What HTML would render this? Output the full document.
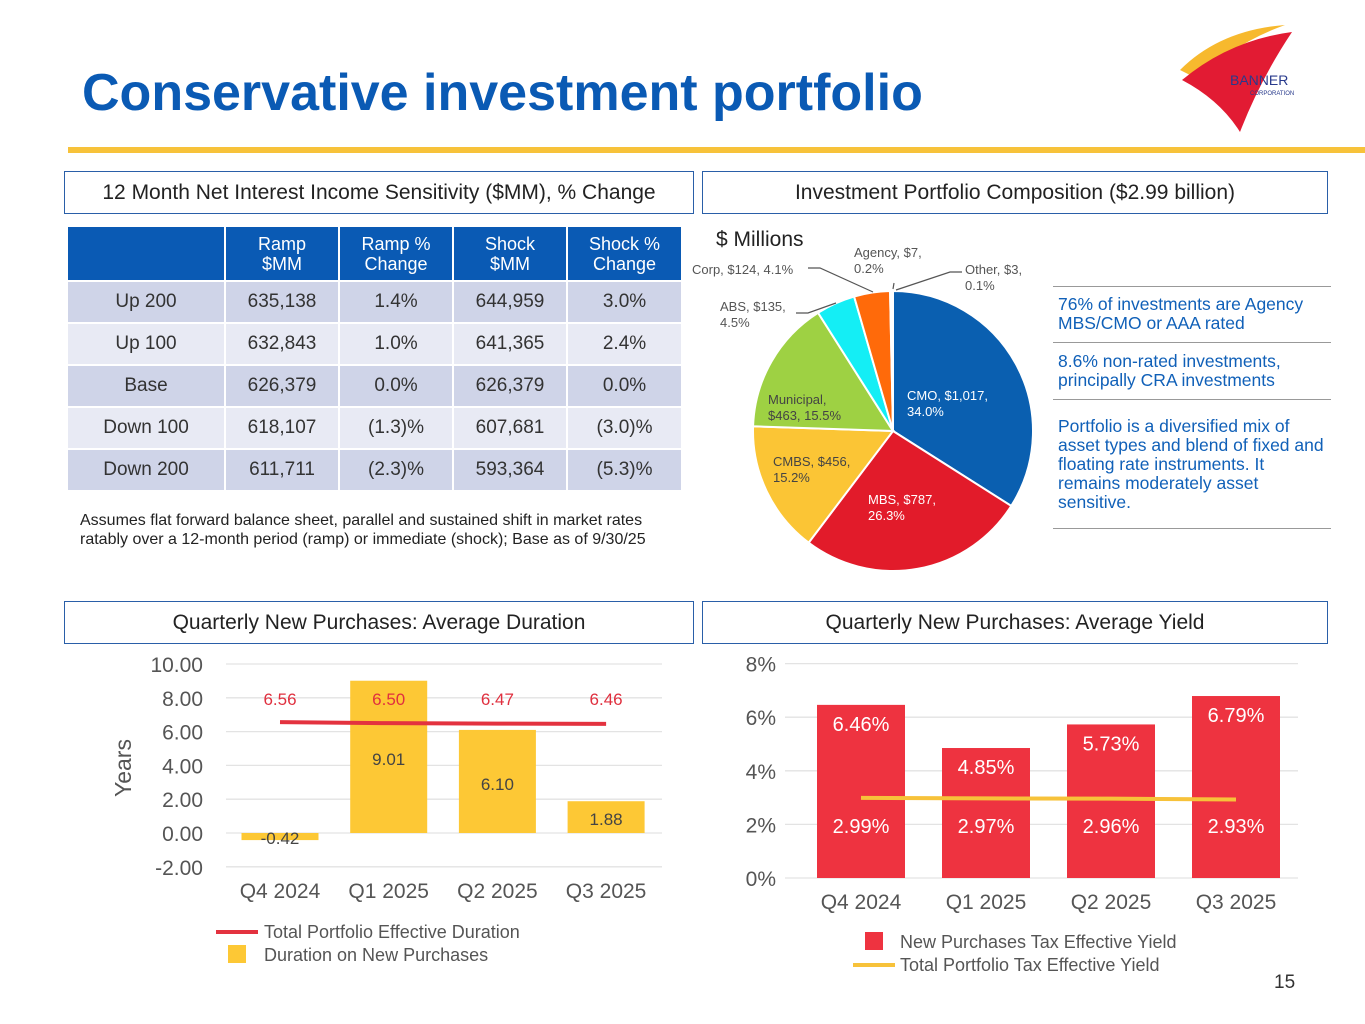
<!DOCTYPE html>
<html><head><meta charset="utf-8"><style>
*{margin:0;padding:0;box-sizing:border-box}
body{width:1365px;height:1024px;background:#fff;font-family:"Liberation Sans",sans-serif;position:relative;overflow:hidden;color:#222}
.abs{position:absolute}
.hdr{position:absolute;border:1.5px solid #2a5fa8;background:#fff;font-size:21px;color:#222;display:flex;align-items:center;justify-content:center;height:43px}
table{border-collapse:separate;border-spacing:2px;position:absolute;left:66px;top:225px;font-size:19px;color:#333}
td,th{text-align:center;padding:0}
th{background:#0a5ab4;color:#fff;font-weight:normal;font-size:18px;line-height:20px;height:53px}
tr.a td{background:#cfd4e8;height:40px}
tr.b td{background:#e8eaf4;height:40px}
.note{position:absolute;left:1058px;width:280px;font-size:17.5px;color:#1060b8;line-height:19px}
.rule{position:absolute;left:1053px;width:278px;height:1px;background:#999}
</style></head><body>
<div class="abs" style="left:82px;top:63px;font-size:52px;font-weight:bold;color:#0a5ab4">Conservative investment portfolio</div>
<div class="abs" style="left:68px;top:147px;width:1297px;height:6px;background:#f7c23a"></div>
<svg class="abs" style="left:1170px;top:20px" width="160" height="120">
<path d="M10,50 Q50,10 115,5 Q60,25 30,60 Z" fill="#f7b92e"/>
<path d="M12,60 Q60,20 122,12 Q90,60 70,112 Q50,80 12,60 Z" fill="#e21b33"/>
<text x="60" y="65" font-size="14" fill="#283a8c" font-family="Liberation Sans">BANNER</text>
<text x="80" y="75" font-size="6" fill="#283a8c" font-family="Liberation Sans">CORPORATION</text>
</svg>
<div class="hdr" style="left:64px;top:171px;width:630px">12 Month Net Interest Income Sensitivity ($MM), % Change</div>
<div class="hdr" style="left:702px;top:171px;width:626px">Investment Portfolio Composition ($2.99 billion)</div>
<div class="hdr" style="left:64px;top:601px;width:630px">Quarterly New Purchases: Average Duration</div>
<div class="hdr" style="left:702px;top:601px;width:626px">Quarterly New Purchases: Average Yield</div>
<table>
<tr><th style="width:156px"></th><th style="width:112px">Ramp<br>$MM</th><th style="width:112px">Ramp %<br>Change</th><th style="width:112px">Shock<br>$MM</th><th style="width:113px">Shock %<br>Change</th></tr>
<tr class="a"><td>Up 200</td><td>635,138</td><td>1.4%</td><td>644,959</td><td>3.0%</td></tr>
<tr class="b"><td>Up 100</td><td>632,843</td><td>1.0%</td><td>641,365</td><td>2.4%</td></tr>
<tr class="a"><td>Base</td><td>626,379</td><td>0.0%</td><td>626,379</td><td>0.0%</td></tr>
<tr class="b"><td>Down 100</td><td>618,107</td><td>(1.3)%</td><td>607,681</td><td>(3.0)%</td></tr>
<tr class="a"><td>Down 200</td><td>611,711</td><td>(2.3)%</td><td>593,364</td><td>(5.3)%</td></tr>
</table>
<div class="abs" style="left:80px;top:511px;width:592px;font-size:16px;line-height:19px;color:#222">Assumes flat forward balance sheet, parallel and sustained shift in market rates ratably over a 12-month period (ramp) or immediate (shock); Base as of 9/30/25</div>
<div class="rule" style="top:286px"></div>
<div class="note" style="top:295px">76% of investments are Agency MBS/CMO or AAA rated</div>
<div class="rule" style="top:342px"></div>
<div class="note" style="top:352px">8.6% non-rated investments, principally CRA investments</div>
<div class="rule" style="top:399px"></div>
<div class="note" style="top:417px;width:272px">Portfolio is a diversified mix of asset types and blend of fixed and floating rate instruments. It remains moderately asset sensitive.</div>
<div class="rule" style="top:528px"></div>
<svg class="abs" id="pie" style="left:0;top:0" width="1365" height="1024"></svg>
<svg class="abs" id="dur" style="left:0;top:0" width="1365" height="1024"></svg>
<svg class="abs" id="yld" style="left:0;top:0" width="1365" height="1024"></svg>
<div class="abs" style="left:1274px;top:972px;font-size:19px;color:#333">15</div>
<script>
const NS='http://www.w3.org/2000/svg';
function mk(p,t,a,txt){const e=document.createElementNS(NS,t);for(const k in a)e.setAttribute(k,a[k]);if(txt!==undefined)e.textContent=txt;p.appendChild(e);return e;}
const F='Liberation Sans, sans-serif';
// ---- Pie
const pieLabels=['CMO','MBS','CMBS','Municipal','ABS','Corp','Agency','Other'];
const pieValues=[1017,787,456,463,135,124,7,3];
const piePct=[34.0,26.3,15.2,15.5,4.5,4.1,0.2,0.1];
const pieColors=['#0a5fb0','#e21b2a','#fbc535','#9ed143','#14eef5','#ff6a0a','#c9c9c9','#9a9a9a'];
(function(){
const s=document.getElementById('pie');const cx=893,cy=431,r=140;
mk(s,'text',{x:716,y:246,'font-size':21,'font-family':F,fill:'#222'},'$ Millions');
const tot=pieValues.reduce((a,b)=>a+b,0);let a0=-Math.PI/2;
pieValues.forEach((v,i)=>{const a1=a0+v/tot*2*Math.PI;
const x0=cx+r*Math.cos(a0),y0=cy+r*Math.sin(a0),x1=cx+r*Math.cos(a1),y1=cy+r*Math.sin(a1);
const p=mk(s,'path',{d:`M${cx},${cy}L${x0},${y0}A${r},${r} 0 ${a1-a0>Math.PI?1:0} 1 ${x1},${y1}Z`,fill:pieColors[i],stroke:'#fff','stroke-width':2});


a0=a1;});
const lab=[[907,400,'#fff'],[868,504,'#fff'],[773,466,'#444'],[768,404,'#444']];
for(let i=0;i<4;i++){const l1=pieLabels[i]+', $'+pieValues[i].toLocaleString('en-US')+',';const l2=piePct[i].toFixed(1)+'%';
const t=mk(s,'text',{x:lab[i][0],y:lab[i][1],'font-size':13,'font-family':F,fill:lab[i][2]});
if(i==3){mk(t,'tspan',{x:lab[i][0]},pieLabels[i]+',');mk(t,'tspan',{x:lab[i][0],dy:16},'$'+pieValues[i]+', '+l2);}
else{mk(t,'tspan',{x:lab[i][0]},l1);mk(t,'tspan',{x:lab[i][0],dy:16},l2);}
}
const g={'font-size':13,'font-family':F,fill:'#555'};
let t=mk(s,'text',Object.assign({x:720,y:311},g));mk(t,'tspan',{x:720},'ABS, $'+pieValues[4]+',');mk(t,'tspan',{x:720,dy:16},piePct[4]+'%');
mk(s,'text',Object.assign({x:692,y:274},g),'Corp, $'+pieValues[5]+', '+piePct[5]+'%');
t=mk(s,'text',Object.assign({x:854,y:257},g));mk(t,'tspan',{x:854},'Agency, $'+pieValues[6]+',');mk(t,'tspan',{x:854,dy:16},piePct[6]+'%');
t=mk(s,'text',Object.assign({x:965,y:274},g));mk(t,'tspan',{x:965},'Other, $'+pieValues[7]+',');mk(t,'tspan',{x:965,dy:16},piePct[7]+'%');
const ln={stroke:'#555','stroke-width':1.2,fill:'none'};
mk(s,'polyline',Object.assign({points:'796,313 808,313 836,303'},ln));
mk(s,'polyline',Object.assign({points:'808,268 820,268 873,292'},ln));
mk(s,'line',Object.assign({x1:893,y1:289,x2:894,y2:283},ln));
mk(s,'polyline',Object.assign({points:'962,272 950,272 896,290'},ln));
})();
// ---- Duration chart
const durCats=['Q4 2024','Q1 2025','Q2 2025','Q3 2025'];
const durNew=[-0.42,9.01,6.10,1.88];
const durTotal=[6.56,6.50,6.47,6.46];
const durTicks=[10,8,6,4,2,0,-2];
(function(){
const s=document.getElementById('dur');
const y=v=>833-v*16.9;const x=i=>280+i*108.7;
durTicks.forEach(v=>{mk(s,'line',{x1:226,x2:662,y1:y(v),y2:y(v),stroke:'#e3e3e3','stroke-width':1.3});
mk(s,'text',{x:203,y:y(v)+8,'text-anchor':'end','font-size':21,'font-family':F,fill:'#555'},v.toFixed(2));});
mk(s,'text',{x:131,y:768,'font-size':23,'font-family':F,fill:'#555','text-anchor':'middle',transform:'rotate(-90 131 768)'},'Years');
durNew.forEach((v,i)=>{const b=mk(s,'rect',{x:x(i)-38.5,y:Math.min(y(v),y(0)),width:77,height:Math.abs(y(v)-y(0)),fill:'#fdc835'});

mk(s,'text',{x:x(i),y:v<0?844:(i==3?825:(i==1?765:790)),'text-anchor':'middle','font-size':17,'font-family':F,fill:'#444'},v.toFixed(2));
mk(s,'text',{x:x(i),y:705,'text-anchor':'middle','font-size':17,'font-family':F,fill:'#e0303f'},durTotal[i].toFixed(2));
mk(s,'text',{x:x(i),y:898,'text-anchor':'middle','font-size':21,'font-family':F,fill:'#555'},durCats[i]);});
const l=mk(s,'polyline',{points:durTotal.map((v,i)=>x(i)+','+y(v)).join(' '),stroke:'#e3323f','stroke-width':4,fill:'none'});

mk(s,'line',{x1:216,x2:258,y1:932,y2:932,stroke:'#e3323f','stroke-width':4});
mk(s,'text',{x:264,y:938,'font-size':18,'font-family':F,fill:'#555'},'Total Portfolio Effective Duration');
mk(s,'rect',{x:228,y:945,width:18,height:18,fill:'#fdc835'});
mk(s,'text',{x:264,y:961,'font-size':18,'font-family':F,fill:'#555'},'Duration on New Purchases');
})();
// ---- Yield chart
const yCats=['Q4 2024','Q1 2025','Q2 2025','Q3 2025'];
const yNew=[6.46,4.85,5.73,6.79];
const yTotal=[2.99,2.97,2.96,2.93];
const yTicks=[8,6,4,2,0];
(function(){
const s=document.getElementById('yld');
const y=v=>878-v*26.8;const x=i=>861+i*125;
yTicks.forEach(v=>{mk(s,'line',{x1:785,x2:1298,y1:y(v),y2:y(v),stroke:'#e3e3e3','stroke-width':1.3});
mk(s,'text',{x:776,y:y(v)+8,'text-anchor':'end','font-size':21,'font-family':F,fill:'#555'},v+'%');});
yNew.forEach((v,i)=>{const b=mk(s,'rect',{x:x(i)-44,y:y(v),width:88,height:y(0)-y(v),fill:'#ee3340'});

mk(s,'text',{x:x(i),y:y(v)+26,'text-anchor':'middle','font-size':20,'font-family':F,fill:'#fff'},v.toFixed(2)+'%');
mk(s,'text',{x:x(i),y:833,'text-anchor':'middle','font-size':20,'font-family':F,fill:'#fff'},yTotal[i].toFixed(2)+'%');
mk(s,'text',{x:x(i),y:909,'text-anchor':'middle','font-size':21,'font-family':F,fill:'#555'},yCats[i]);});
const l=mk(s,'polyline',{points:yTotal.map((v,i)=>x(i)+','+y(v)).join(' '),stroke:'#f7c23a','stroke-width':4,fill:'none'});

mk(s,'rect',{x:865,y:932,width:18,height:18,fill:'#ee3340'});
mk(s,'text',{x:900,y:948,'font-size':18,'font-family':F,fill:'#555'},'New Purchases Tax Effective Yield');
mk(s,'line',{x1:853,x2:895,y1:965,y2:965,stroke:'#f7c23a','stroke-width':4});
mk(s,'text',{x:900,y:971,'font-size':18,'font-family':F,fill:'#555'},'Total Portfolio Tax Effective Yield');
})();
</script>
</body></html>
